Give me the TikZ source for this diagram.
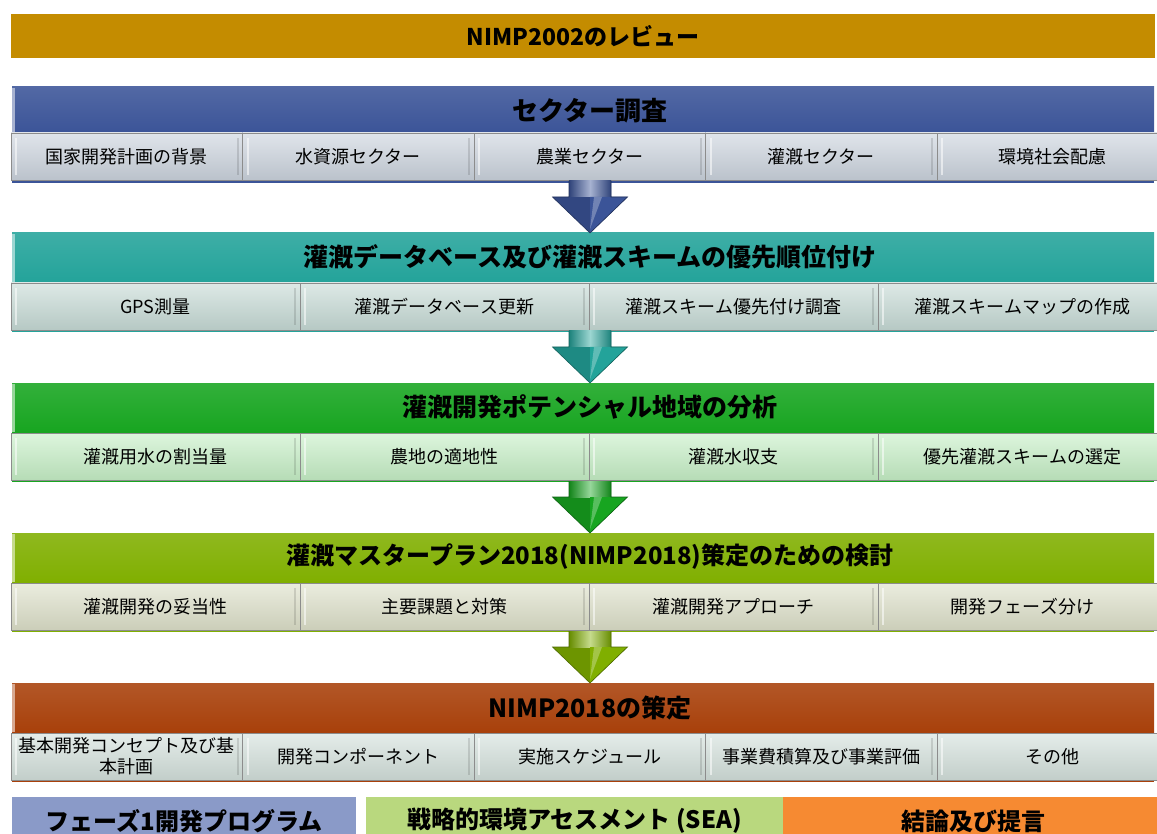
\documentclass[tikz,border=0pt]{standalone}
\usepackage{fontspec}
\setmainfont{Noto Sans CJK JP}
\usetikzlibrary{calc}
\definecolor{gold}{HTML}{C48C00}
\definecolor{cA}{HTML}{3B5498}
\definecolor{rA}{HTML}{CBD3DD}
\definecolor{cB}{HTML}{23A39A}
\definecolor{rB}{HTML}{C6DAD5}
\definecolor{cC}{HTML}{17A520}
\definecolor{rC}{HTML}{C6EFC6}
\definecolor{cD}{HTML}{80AF00}
\definecolor{rD}{HTML}{DDE0C9}
\definecolor{cE}{HTML}{A8400A}
\definecolor{rE}{HTML}{D3E0DB}
\definecolor{barA}{HTML}{8A9AC8}
\definecolor{barB}{HTML}{B9D87E}
\definecolor{barC}{HTML}{F68A32}
\newcommand\flowarrow[3]{%
  \fill[#3!85!black] ($(#1)+(-21,0)$) -- ($(#1)+(21,0)$) -- ($(#1)+(21,16)$) -- ($(#1)+(37.5,16)$) -- (#2) -- ($(#1)+(-37.5,16)$) -- ($(#1)+(-21,16)$) -- cycle;
  \shade[left color=#3!80!black, right color=#3!80!black, middle color=#3!45!white] ($(#1)+(-21,0)$) rectangle ($(#1)+(21,16)$);
  \fill[#3] ($(#1)+(0,16)$) -- ($(#1)+(37.5,16)$) -- (#2) -- cycle;
  \fill[#3!60!white, opacity=0.7] ($(#1)+(4,16)$) -- ($(#1)+(12,16)$) -- ($(#2)+(0,-4)$) -- cycle;
  \draw[#3!60!black, line width=0.6pt] ($(#1)+(-21,0)$) -- ($(#1)+(-21,16)$) -- ($(#1)+(-37.5,16)$) -- (#2) -- ($(#1)+(37.5,16)$) -- ($(#1)+(21,16)$) -- ($(#1)+(21,0)$);
}
\tikzset{
  hdrbox/.style={minimum width=1142pt, inner sep=0pt},
  ttl/.style={inner sep=0pt, font=\fontsize{25}{28}\selectfont\bfseries, text=black},
  sub/.style={minimum height=47pt, inner sep=0pt, align=center, font=\fontsize{18}{22}\selectfont, draw=black!45, line width=0.8pt, text=black,
    path picture={
      \draw[white, opacity=0.55, line width=2pt] ([shift={(5pt,-5pt)}]path picture bounding box.north west) -- ([shift={(5pt,5pt)}]path picture bounding box.south west);
      \draw[black, opacity=0.12, line width=2pt] ([shift={(-5pt,-5pt)}]path picture bounding box.north east) -- ([shift={(-5pt,5pt)}]path picture bounding box.south east);
    }},
  five/.style={sub, minimum width=231.5pt},
  four/.style={sub, minimum width=289pt},
  bar/.style={minimum height=48pt, inner sep=0pt, font=\fontsize{24}{26}\selectfont\bfseries, text=black},
}
\begin{document}
\begin{tikzpicture}[x=1pt, y=-1pt]
\useasboundingbox (0,0) rectangle (1157,834);
\clip (0,0) rectangle (1157,834);
% top band
\node[fill=gold, minimum width=1144pt, minimum height=44pt, inner sep=0pt, font=\fontsize{23}{26}\selectfont\bfseries] (top) at (583,36) {NIMP2002のレビュー};
% section 1
\fill[cA] (12,87) rectangle (1154,183);
\node[hdrbox, minimum height=46pt, top color=cA!88!white, bottom color=cA] (h1) at (583,110) {};
\node[ttl, font=\fontsize{26}{30}\selectfont\bfseries] (t1) at (590,111) {セクター調査};
\fill[cA!45!white] (12,88) rectangle (15,132);
\node[five, top color=rA!60!white, bottom color=rA!92!black] (s11) at (126.75,156.5) {国家開発計画の背景};
\node[five, top color=rA!60!white, bottom color=rA!92!black] (s12) at (358.25,156.5) {水資源セクター};
\node[five, top color=rA!60!white, bottom color=rA!92!black] (s13) at (589.75,156.5) {農業セクター};
\node[five, top color=rA!60!white, bottom color=rA!92!black] (s14) at (821.25,156.5) {灌漑セクター};
\node[five, top color=rA!60!white, bottom color=rA!92!black] (s15) at (1052.75,156.5) {環境社会配慮};
% section 2
\fill[cB] (12,233) rectangle (1154,332);
\node[hdrbox, minimum height=50pt, top color=cB!88!white, bottom color=cB] (h2) at (583,258) {};
\node[ttl] (t2) at (590,257) {灌漑データベース及び灌漑スキームの優先順位付け};
\fill[cB!45!white] (12,234) rectangle (15,282);
\node[four, top color=rB!60!white, bottom color=rB!92!black] (s21) at (155.5,306.5) {GPS測量};
\node[four, top color=rB!60!white, bottom color=rB!92!black] (s22) at (444.5,306.5) {灌漑データベース更新};
\node[four, top color=rB!60!white, bottom color=rB!92!black] (s23) at (733.5,306.5) {灌漑スキーム優先付け調査};
\node[four, top color=rB!60!white, bottom color=rB!92!black] (s24) at (1022.5,306.5) {灌漑スキームマップの作成};
% section 3
\fill[cC] (12,383) rectangle (1154,482);
\node[hdrbox, minimum height=50pt, top color=cC!88!white, bottom color=cC] (h3) at (583,408) {};
\node[ttl] (t3) at (590,407) {灌漑開発ポテンシャル地域の分析};
\fill[cC!45!white] (12,384) rectangle (15,432);
\node[four, top color=rC!60!white, bottom color=rC!92!black] (s31) at (155.5,456.5) {灌漑用水の割当量};
\node[four, top color=rC!60!white, bottom color=rC!92!black] (s32) at (444.5,456.5) {農地の適地性};
\node[four, top color=rC!60!white, bottom color=rC!92!black] (s33) at (733.5,456.5) {灌漑水収支};
\node[four, top color=rC!60!white, bottom color=rC!92!black] (s34) at (1022.5,456.5) {優先灌漑スキームの選定};
% section 4
\fill[cD] (12,533) rectangle (1154,632);
\node[hdrbox, minimum height=50pt, top color=cD!88!white, bottom color=cD] (h4) at (583,558) {};
\node[ttl, font=\fontsize{24}{28}\selectfont\bfseries] (t4) at (590,557) {灌漑マスタープラン2018(NIMP2018)策定のための検討};
\fill[cD!45!white] (12,534) rectangle (15,582);
\node[four, top color=rD!60!white, bottom color=rD!92!black] (s41) at (155.5,606.5) {灌漑開発の妥当性};
\node[four, top color=rD!60!white, bottom color=rD!92!black] (s42) at (444.5,606.5) {主要課題と対策};
\node[four, top color=rD!60!white, bottom color=rD!92!black] (s43) at (733.5,606.5) {灌漑開発アプローチ};
\node[four, top color=rD!60!white, bottom color=rD!92!black] (s44) at (1022.5,606.5) {開発フェーズ分け};
% section 5
\fill[cE] (12,683) rectangle (1154,782);
\node[hdrbox, minimum height=50pt, top color=cE!88!white, bottom color=cE] (h5) at (583,708) {};
\node[ttl] (t5) at (590,708) {NIMP2018の策定};
\fill[cE!45!white] (12,684) rectangle (15,732);
\node[five, top color=rE!60!white, bottom color=rE!92!black, font=\fontsize{18}{21}\selectfont] (s51) at (126.75,756.5) {基本開発コンセプト及び基\\本計画};
\node[five, top color=rE!60!white, bottom color=rE!92!black] (s52) at (358.25,756.5) {開発コンポーネント};
\node[five, top color=rE!60!white, bottom color=rE!92!black] (s53) at (589.75,756.5) {実施スケジュール};
\node[five, top color=rE!60!white, bottom color=rE!92!black] (s54) at (821.25,756.5) {事業費積算及び事業評価};
\node[five, top color=rE!60!white, bottom color=rE!92!black] (s55) at (1052.75,756.5) {その他};
% arrows
\coordinate (a1s) at (590,181); \coordinate (a1e) at (590,233);
\coordinate (a2s) at (590,331); \coordinate (a2e) at (590,383);
\coordinate (a3s) at (590,481); \coordinate (a3e) at (590,533);
\coordinate (a4s) at (590,631); \coordinate (a4e) at (590,683);
\flowarrow{a1s}{a1e}{cA}
\flowarrow{a2s}{a2e}{cB}
\flowarrow{a3s}{a3e}{cC}
\flowarrow{a4s}{a4e}{cD}
% bottom bars
\node[bar, fill=barA, minimum width=344pt] (b1) at (184,821) {フェーズ1開発プログラム};
\node[bar, fill=barB, minimum width=417pt] (b2) at (574.5,821) {戦略的環境アセスメント (SEA)};
\node[bar, fill=barC, minimum width=380pt] (b3) at (973,821) {結論及び提言};
\end{tikzpicture}
\end{document}
